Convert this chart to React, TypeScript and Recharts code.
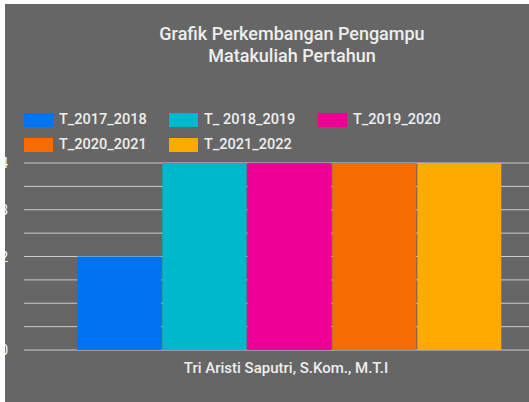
import React from 'react';
import { BarChart, Bar, XAxis, YAxis, CartesianGrid } from 'recharts';

const seriesKeys = ['T_2017_2018', 'T_2018_2019', 'T_2019_2020', 'T_2020_2021', 'T_2021_2022'];
const seriesLabels = ['T_2017_2018', 'T_ 2018_2019', 'T_2019_2020', 'T_2020_2021', 'T_2021_2022'];
const seriesValues = [2, 4, 4, 4, 4];
const seriesColors = ['#0073f0', '#00b8cc', '#ee0097', '#f76c00', '#ffaa00'];
const gridTicks = [0, 0.5, 1, 1.5, 2, 2.5, 3, 3.5, 4];
const labelTicks = [0, 2, 3, 4];

const chartData = [
  seriesKeys.reduce((row: any, key, i) => {
    row[key] = seriesValues[i];
    return row;
  }, { name: 'Tri Aristi Saputri, S.Kom., M.T.I' }),
];

const font = 'Roboto, "Noto Sans", sans-serif';

function YTick(props: any) {
  const { y, payload } = props;
  if (!labelTicks.includes(payload.value)) return null;
  return (
    <text x={8} y={y} dy={5} textAnchor="end" fill="#ffffff" fontSize={14} fontFamily={font}>
      {payload.value}
    </text>
  );
}

function Legend() {
  const rows = [[0, 1, 2], [3, 4]];
  const cols = [24, 169, 318];
  return (
    <>
      {rows.map((row, r) =>
        row.map((idx, c) => (
          <div
            key={idx}
            style={{
              position: 'absolute',
              left: cols[c],
              top: 111 + r * 25,
              display: 'flex',
              alignItems: 'center',
              fontFamily: font,
              fontSize: 14.5,
              fontWeight: 500,
              color: '#eeeeee',
              whiteSpace: 'nowrap',
            }}
          >
            <span style={{ width: 29, height: 14, background: seriesColors[idx], marginRight: 6 }} />
            <span>{seriesLabels[idx]}</span>
          </div>
        ))
      )}
    </>
  );
}

export default function App() {
  return (
    <div style={{ position: 'fixed', left: 0, top: 0, width: 529, height: 402, background: '#ffffff', overflow: 'hidden' }}>
      <div style={{ position: 'absolute', left: 5, top: 4, width: 524, height: 398, background: '#666666' }} />
      <div style={{ position: 'absolute', left: 0, top: 0 }}>
        <BarChart
          width={557}
          height={402}
          data={chartData}
          margin={{ top: 163, right: 0, bottom: 52, left: 0 }}
          barCategoryGap="10%"
          barGap={1}
        >
          <CartesianGrid horizontal vertical={false} stroke="#cccccc" strokeWidth={1} />
          <XAxis dataKey="name" tick={false} axisLine={{ stroke: '#dddddd', strokeWidth: 2 }} tickLine={false} height={0} />
          <YAxis
            domain={[0, 4]}
            ticks={gridTicks}
            width={24}
            axisLine={false}
            tickLine={false}
            tick={<YTick />}
            interval={0}
          />
          {seriesKeys.map((key, i) => (
            <Bar key={key} dataKey={key} fill={seriesColors[i]} isAnimationActive={false} />
          ))}
        </BarChart>
      </div>
      <div style={{ position: 'absolute', left: 0, top: 0, width: 5, height: 402, background: '#ffffff' }} />
      <div style={{ position: 'absolute', left: 0, top: 0, width: 529, height: 4, background: '#ffffff' }} />
      <div
        style={{
          position: 'absolute',
          left: 5,
          top: 23,
          width: 574,
          textAlign: 'center',
          fontFamily: font,
          fontSize: 18,
          fontWeight: 500,
          lineHeight: '22px',
          color: '#eeeeee',
        }}
      >
        Grafik Perkembangan Pengampu
        <br />
        Matakuliah Pertahun
      </div>
      <Legend />
      <div
        style={{
          position: 'absolute',
          left: -1,
          top: 359,
          width: 574,
          textAlign: 'center',
          fontFamily: font,
          fontSize: 15,
          fontWeight: 500,
          color: '#eeeeee',
        }}
      >
        Tri Aristi Saputri, S.Kom., M.T.I
      </div>
    </div>
  );
}
